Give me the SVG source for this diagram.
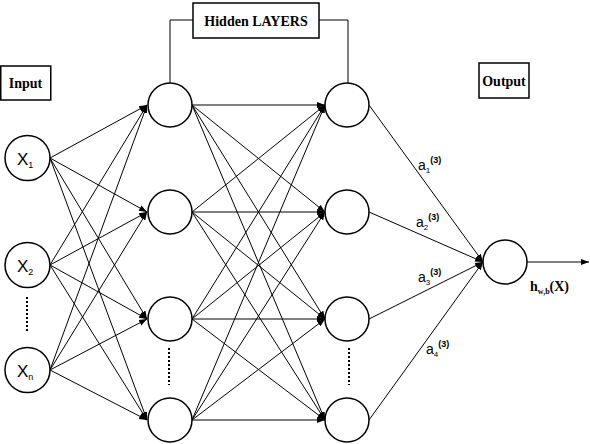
<svg xmlns="http://www.w3.org/2000/svg" width="590" height="444" viewBox="0 0 590 444">
<style>
.c{fill:#fff;stroke:#000;stroke-width:1.5}
.l{stroke:#000;stroke-width:1;fill:none}
.box{fill:#fff;stroke:#000;stroke-width:1.5}
.bt{font-family:"Liberation Serif",serif;font-weight:bold;font-size:14px;fill:#000}
.xs{font-family:"Liberation Sans",sans-serif;font-size:17px;fill:#000}
.as{font-family:"Liberation Sans",sans-serif;font-size:14px;fill:#000}
.sup{font-family:"Liberation Sans",sans-serif;font-weight:bold;font-size:9px;fill:#000}
.dot{stroke:#000;stroke-width:2;stroke-dasharray:2,2}
</style>
<defs>
<marker id="ah" markerWidth="8" markerHeight="8" refX="8" refY="4" orient="auto" markerUnits="userSpaceOnUse">
<path d="M0,1 L8,4 L0,7 z" fill="#000"/>
</marker>
</defs>
<g id="connectors">
<g marker-end="url(#ah)" class="l">
<line x1="50" y1="158" x2="147" y2="105"/><line x1="50" y1="158" x2="147" y2="212"/><line x1="50" y1="158" x2="147" y2="319"/><line x1="50" y1="158" x2="147" y2="420"/>
<line x1="50" y1="265" x2="147" y2="105"/><line x1="50" y1="265" x2="147" y2="212"/><line x1="50" y1="265" x2="147" y2="319"/><line x1="50" y1="265" x2="147" y2="420"/>
<line x1="50" y1="370" x2="147" y2="105"/><line x1="50" y1="370" x2="147" y2="212"/><line x1="50" y1="370" x2="147" y2="319"/><line x1="50" y1="370" x2="147" y2="420"/>
<line x1="192" y1="105" x2="325" y2="105"/><line x1="192" y1="105" x2="325" y2="212"/><line x1="192" y1="105" x2="325" y2="319"/><line x1="192" y1="105" x2="325" y2="420"/>
<line x1="192" y1="212" x2="325" y2="105"/><line x1="192" y1="212" x2="325" y2="212"/><line x1="192" y1="212" x2="325" y2="319"/><line x1="192" y1="212" x2="325" y2="420"/>
<line x1="192" y1="319" x2="325" y2="105"/><line x1="192" y1="319" x2="325" y2="212"/><line x1="192" y1="319" x2="325" y2="319"/><line x1="192" y1="319" x2="325" y2="420"/>
<line x1="192" y1="420" x2="325" y2="105"/><line x1="192" y1="420" x2="325" y2="212"/><line x1="192" y1="420" x2="325" y2="319"/><line x1="192" y1="420" x2="325" y2="420"/>
<line x1="369" y1="105" x2="483" y2="262"/><line x1="369" y1="212" x2="483" y2="262"/><line x1="369" y1="319" x2="483" y2="262"/><line x1="369" y1="420" x2="483" y2="262"/>
<line x1="527" y1="262" x2="589" y2="262"/>
</g>
<polyline class="l" points="193,20 170,20 170,83"/>
<polyline class="l" points="319,20 348,20 348,83"/>
<line class="dot" x1="27" y1="297" x2="27" y2="333"/>
<line class="dot" x1="169" y1="348" x2="169" y2="385"/>
<line class="dot" x1="349" y1="348" x2="349" y2="385"/>
</g>
<g id="hidden-label"><rect class="box" x="193" y="3" width="126" height="35"/><text class="bt" x="256" y="26" text-anchor="middle">Hidden LAYERS</text></g>
<g id="input-label"><rect class="box" x="0.75" y="66" width="50" height="34"/><text class="bt" x="25.5" y="88" text-anchor="middle">Input</text></g>
<g id="output-label"><rect class="box" x="479" y="63" width="50" height="35"/><text class="bt" x="504" y="86" text-anchor="middle">Output</text></g>
<g id="x1"><circle class="c" cx="27.5" cy="158" r="22.5"/><text class="xs" x="17" y="165">X<tspan font-size="9" dy="3">1</tspan></text></g>
<g id="x2"><circle class="c" cx="27.5" cy="265" r="22.5"/><text class="xs" x="17" y="272">X<tspan font-size="9" dy="3">2</tspan></text></g>
<g id="xn"><circle class="c" cx="27.5" cy="370" r="22.5"/><text class="xs" x="17" y="377">X<tspan font-size="9" dy="3">n</tspan></text></g>
<g id="h1a"><circle class="c" cx="170" cy="105" r="22"/></g>
<g id="h1b"><circle class="c" cx="170" cy="212" r="22"/></g>
<g id="h1c"><circle class="c" cx="170" cy="319" r="22"/></g>
<g id="h1d"><circle class="c" cx="170" cy="420" r="22"/></g>
<g id="h2a"><circle class="c" cx="347" cy="105" r="22"/></g>
<g id="h2b"><circle class="c" cx="347" cy="212" r="22"/></g>
<g id="h2c"><circle class="c" cx="347" cy="319" r="22"/></g>
<g id="h2d"><circle class="c" cx="347" cy="420" r="22"/></g>
<g id="out"><circle class="c" cx="505" cy="262" r="22"/></g>
<g id="labels">
<text class="as" x="418" y="170">a<tspan font-size="8" dy="3">1</tspan><tspan class="sup" dy="-10">(3)</tspan></text>
<text class="as" x="416" y="227">a<tspan font-size="8" dy="3">2</tspan><tspan class="sup" dy="-10">(3)</tspan></text>
<text class="as" x="418" y="282">a<tspan font-size="8" dy="3">3</tspan><tspan class="sup" dy="-10">(3)</tspan></text>
<text class="as" x="426" y="354">a<tspan font-size="8" dy="3">4</tspan><tspan class="sup" dy="-10">(3)</tspan></text>
<text class="bt" x="530" y="291">h<tspan font-size="8" dy="3">w,b</tspan><tspan dy="-3">(X)</tspan></text>
</g>
</svg>
